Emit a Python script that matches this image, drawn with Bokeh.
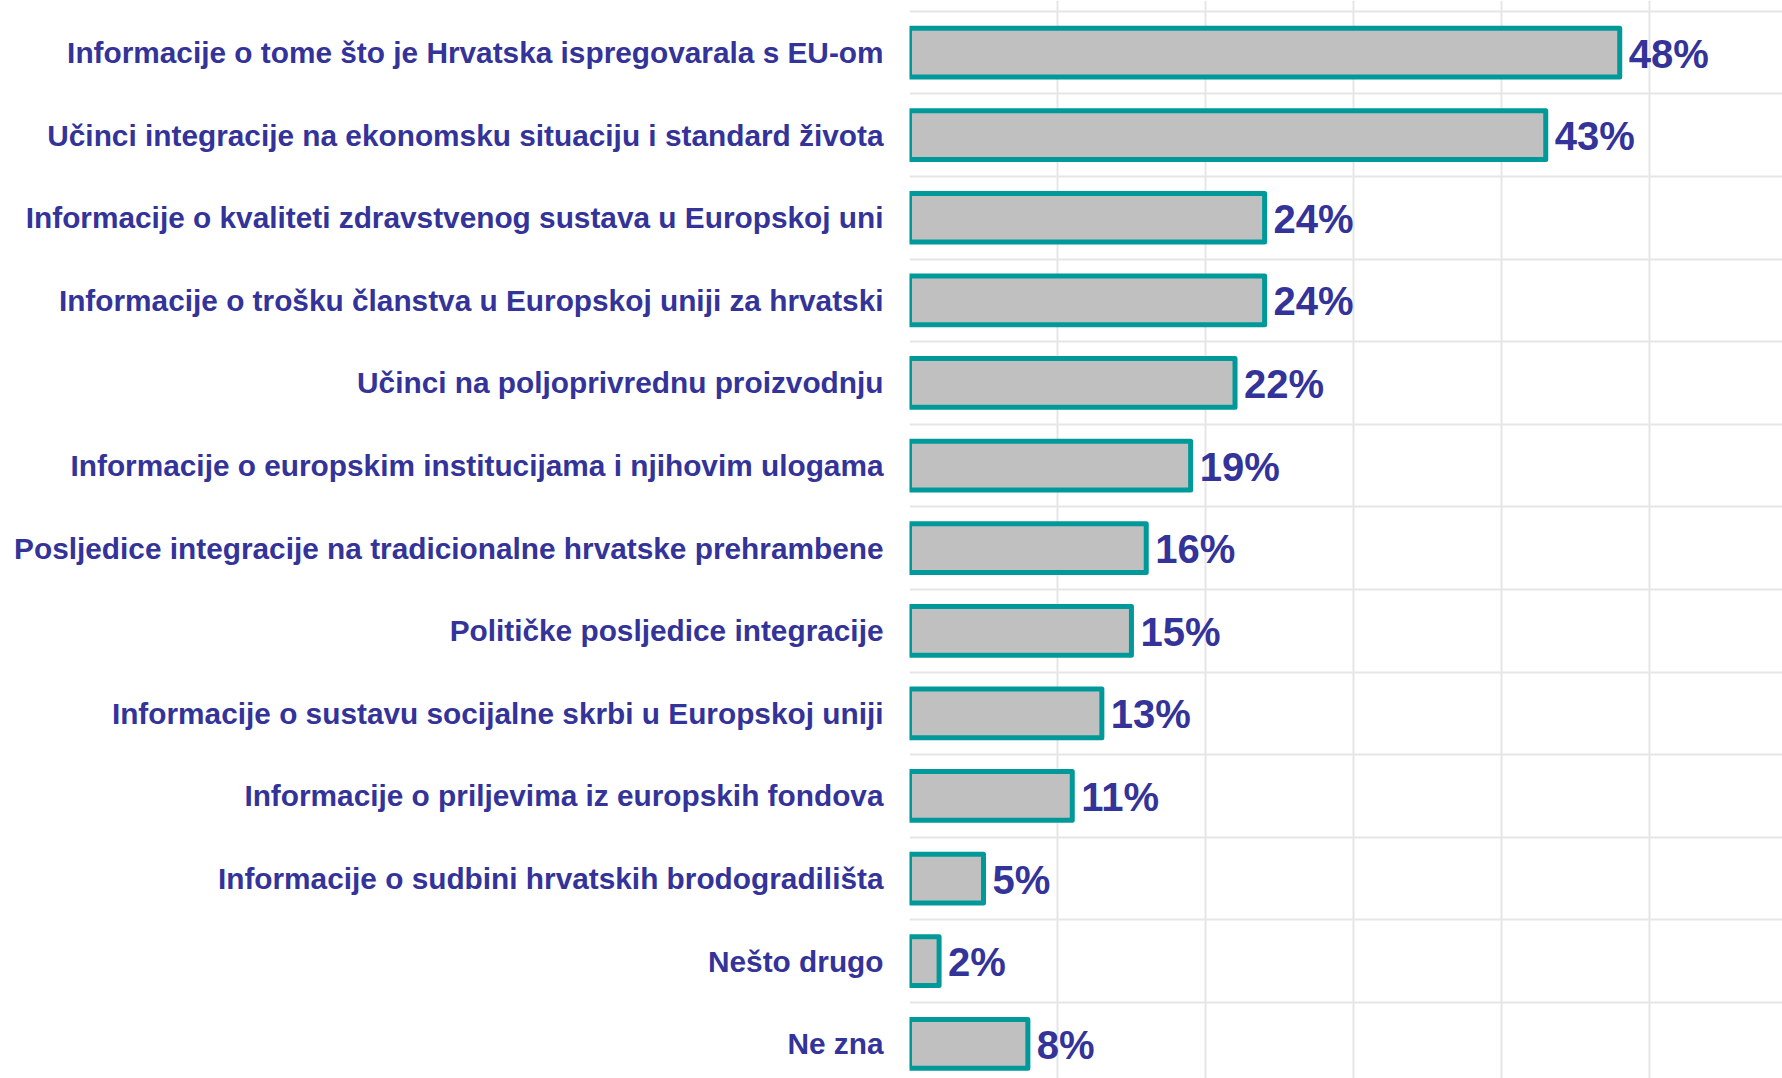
from bokeh.plotting import figure
from bokeh.models import Range1d, FixedTicker, Grid, ColumnDataSource
from bokeh.core.properties import value
from bokeh.embed import file_html
from bokeh.resources import INLINE

categories = [
    "Informacije o tome što je Hrvatska ispregovarala s EU-om",
    "Učinci integracije na ekonomsku situaciju i standard života",
    "Informacije o kvaliteti zdravstvenog sustava u Europskoj uni",
    "Informacije o trošku članstva u Europskoj uniji za hrvatski",
    "Učinci na poljoprivrednu proizvodnju",
    "Informacije o europskim institucijama i njihovim ulogama",
    "Posljedice integracije na tradicionalne hrvatske prehrambene",
    "Političke posljedice integracije",
    "Informacije o sustavu socijalne skrbi u Europskoj uniji",
    "Informacije o priljevima iz europskih fondova",
    "Informacije o sudbini hrvatskih brodogradilišta",
    "Nešto drugo",
    "Ne zna",
]
values = [48, 43, 24, 24, 22, 19, 16, 15, 13, 11, 5, 2, 8]
value_labels = [f"{v}%" for v in values]
x_ticks = [0, 10, 20, 30, 40, 50]

FONT = "Liberation Sans"
BLUE = "#333399"

idx = list(range(len(categories)))
src = ColumnDataSource(dict(y=idx, v=values, half=[v / 2 for v in values], lab=value_labels))

p = figure(width=1782, height=1078, output_backend="svg", toolbar_location=None,
           x_range=Range1d(0, 59), y_range=Range1d(12.42, -0.63),
           min_border_left=909, min_border_right=0, min_border_top=0, min_border_bottom=0)
p.outline_line_color = None
p.xaxis.visible = False
p.xgrid.ticker = FixedTicker(ticks=x_ticks)
p.xgrid.grid_line_color = "#e6e6e6"
p.xgrid.grid_line_width = 2
p.ygrid.visible = False
p.add_layout(Grid(dimension=1, ticker=FixedTicker(ticks=[i - 0.5 for i in idx]),
                  grid_line_color="#e6e6e6", grid_line_width=2))

ax = p.yaxis[0]
ax.ticker = FixedTicker(ticks=idx)
ax.major_label_overrides = {i: c for i, c in enumerate(categories)}
ax.axis_line_color = None
ax.major_tick_line_color = None
ax.minor_tick_line_color = None
ax.major_label_standoff = 20
ax.major_label_text_font = FONT
ax.major_label_text_font_style = "bold"
ax.major_label_text_font_size = "29.8px"
ax.major_label_text_color = BLUE

p.rect(x="half", y="y", width="v", height=0.59, source=src,
       fill_color="#c0c0c0", line_color="#009999", line_width=5, line_join="round")
p.text(x="v", y="y", text="lab", source=src, x_offset=9, y_offset=1,
       text_font=value(FONT), text_font_style="bold", text_font_size="40px",
       text_color=BLUE, text_baseline="middle", text_align="left")

open("out.html", "w").write(file_html(p, INLINE))
